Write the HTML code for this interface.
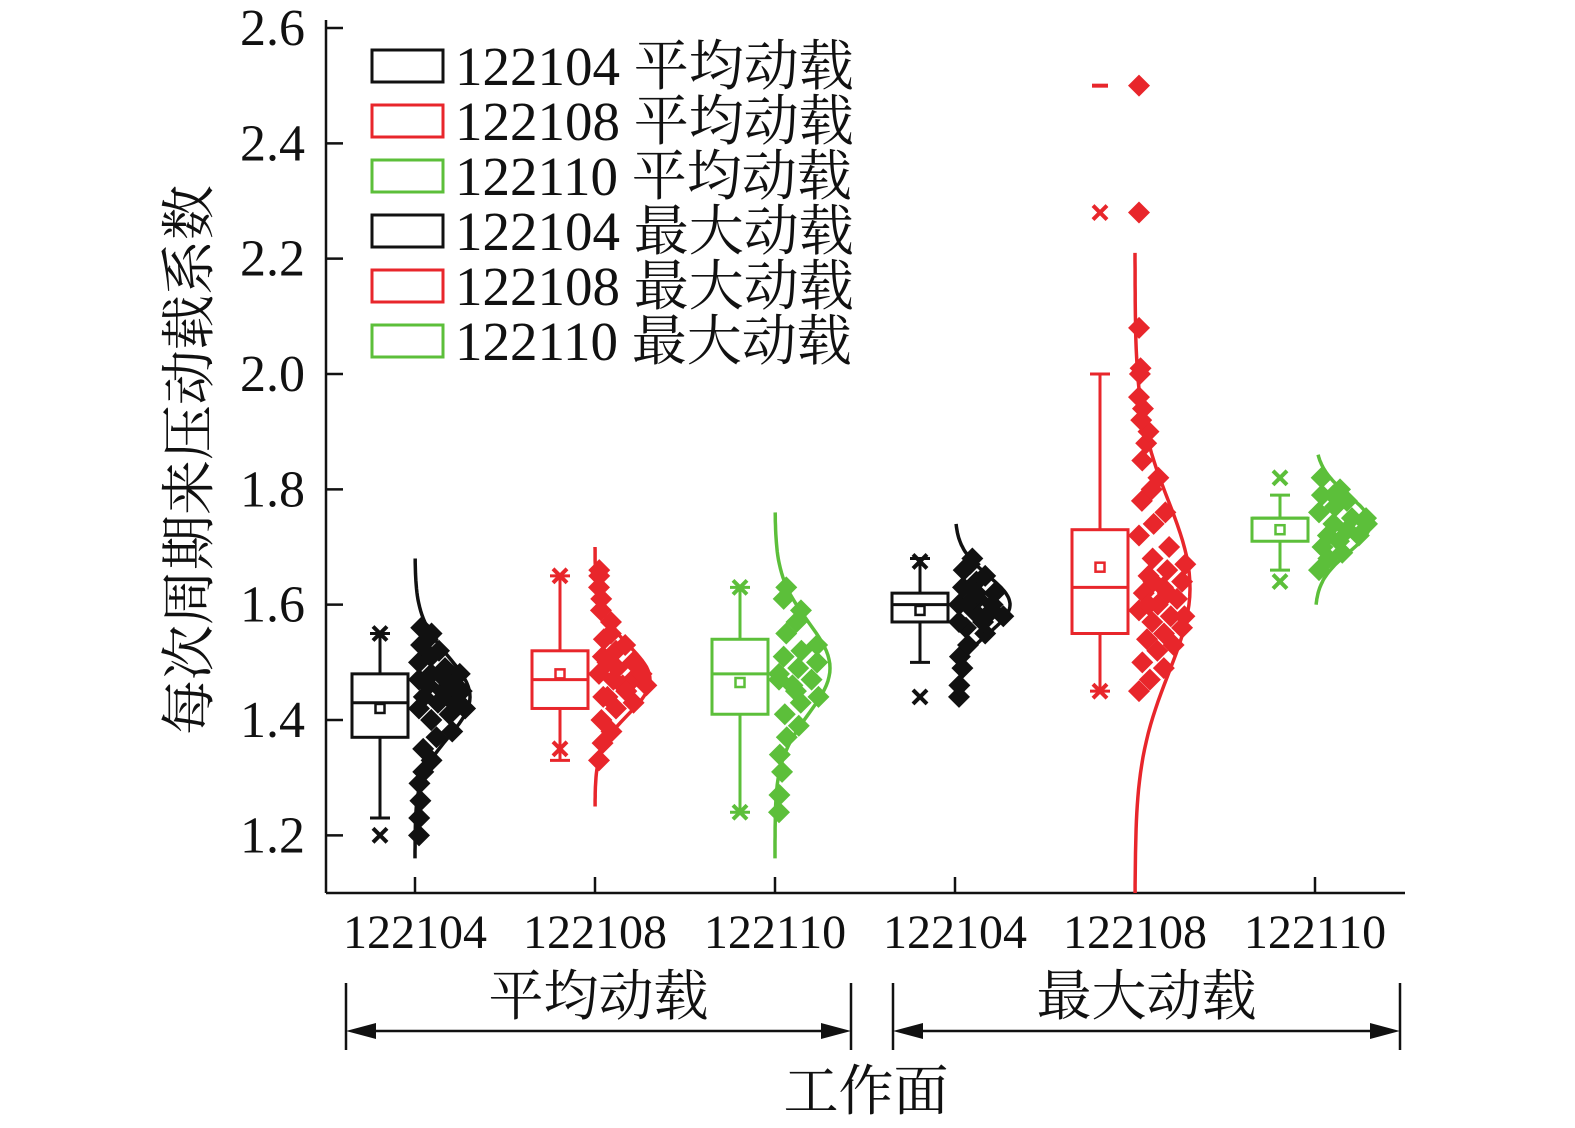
<!DOCTYPE html>
<html><head><meta charset="utf-8"><style>
html,body{margin:0;padding:0;background:#fff;}
svg text{font-family:"Liberation Serif","Noto Serif CJK SC",serif;}
</style></head><body>
<svg id="c" width="1575" height="1123" viewBox="0 0 1575 1123" xmlns="http://www.w3.org/2000/svg"></svg>
<script>
const categories=["122104","122108","122110","122104","122108","122110"];
const seriesNames=["122104 平均动载","122108 平均动载","122110 平均动载","122104 最大动载","122108 最大动载","122110 最大动载"];
const colors=["#111111","#e8262b","#5cbf3a","#111111","#e8262b","#5cbf3a"];
const yTicks=[1.2,1.4,1.6,1.8,2.0,2.2,2.4,2.6];
const yTickLabels=["1.2","1.4","1.6","1.8","2.0","2.2","2.4","2.6"];
const boxQ1=[1.37,1.42,1.41,1.57,1.55,1.71];
const boxMedian=[1.43,1.47,1.48,1.60,1.63,1.75];
const boxQ3=[1.48,1.52,1.54,1.62,1.73,1.75];
const boxMean=[1.42,1.48,1.465,1.59,1.665,1.73];
const whiskerLow=[1.23,1.33,1.24,1.50,1.45,1.66];
const whiskerHigh=[1.55,1.65,1.63,1.68,2.00,1.79];
const minMarker=[1.20,1.35,1.24,1.44,1.45,1.64];
const maxMarker=[1.55,1.65,1.63,1.675,2.28,1.82];
const extremeDash=[null,null,null,null,2.50,null];
const curveMean=[1.44,1.47,1.49,1.60,1.63,1.74];
const curveSd=[0.07,0.06,0.08,0.05,0.15,0.05];
const curveLow=[1.16,1.25,1.16,1.50,1.10,1.60];
const curveHigh=[1.68,1.70,1.76,1.74,2.21,1.86];
const points=[
[1.20,1.23,1.26,1.29,1.31,1.33,1.35,1.37,1.38,1.40,1.41,1.42,1.43,1.43,1.44,1.45,1.45,1.46,1.47,1.48,1.48,1.49,1.50,1.51,1.52,1.53,1.54,1.55,1.56,1.44,1.42,1.40,1.46,1.47],
[1.33,1.36,1.38,1.40,1.42,1.43,1.44,1.45,1.46,1.47,1.47,1.48,1.49,1.50,1.51,1.52,1.53,1.54,1.55,1.57,1.59,1.61,1.63,1.65,1.66,1.44,1.46,1.48,1.50,1.45],
[1.24,1.27,1.31,1.34,1.37,1.39,1.41,1.43,1.44,1.46,1.47,1.48,1.49,1.50,1.51,1.52,1.53,1.55,1.57,1.59,1.61,1.63,1.47,1.45,1.50],
[1.44,1.46,1.49,1.51,1.53,1.55,1.56,1.57,1.58,1.59,1.60,1.60,1.61,1.62,1.63,1.64,1.65,1.66,1.67,1.68,1.61,1.59,1.57,1.62],
[1.45,1.47,1.49,1.50,1.52,1.53,1.54,1.55,1.56,1.57,1.58,1.59,1.60,1.61,1.62,1.63,1.64,1.65,1.66,1.67,1.68,1.70,1.72,1.74,1.76,1.78,1.80,1.82,1.85,1.88,1.90,1.92,1.94,1.96,2.00,2.01,2.08,2.28,2.50,1.60,1.62,1.58,1.64],
[1.66,1.68,1.69,1.70,1.71,1.72,1.72,1.73,1.74,1.74,1.75,1.76,1.77,1.78,1.79,1.79,1.80,1.82,1.73,1.75]
];
const svg=document.getElementById('c');
const NS="http://www.w3.org/2000/svg";
const X0=326,X1=1405,YB=893,YT=28;
const yMin=1.1,yMax=2.6;
function y(v){return YB-(v-yMin)/(yMax-yMin)*(YB-YT);}
function xc(i){return 415+180*i;}
function el(tag,attrs,parent){const e=document.createElementNS(NS,tag);for(const k in attrs)e.setAttribute(k,attrs[k]);(parent||svg).appendChild(e);return e;}
function txt(s,attrs,parent){const t=el('text',attrs,parent);t.textContent=s;return t;}

const ax=el('g',{});


const yl=el('line',{x1:X0,y1:YT-8,x2:X0,y2:YB,stroke:'#111','stroke-width':2.5},ax);


const xl=el('line',{x1:X0,y1:YB,x2:X1,y2:YB,stroke:'#111','stroke-width':2.5},ax);


yTicks.forEach((v,i)=>{
  const t=el('line',{x1:X0,y1:y(v),x2:X0+17,y2:y(v),stroke:'#111','stroke-width':2.5},ax);
  
  
  const l=txt(yTickLabels[i],{x:305,y:y(v)+17,'font-size':52,'text-anchor':'end',fill:'#111'},ax);
  
  
});
categories.forEach((c,i)=>{
  const t=el('line',{x1:xc(i),y1:YB,x2:xc(i),y2:YB-16,stroke:'#111','stroke-width':2.5},ax);
  
  
  const l=txt(c,{x:xc(i),y:948,'font-size':48,'text-anchor':'middle',fill:'#111'},ax);
  
  
});
const yt=txt('每次周期来压动载系数',{x:0,y:0,'font-size':55,'text-anchor':'middle',fill:'#111',transform:'translate(208,460) rotate(-90)'});


const xt=txt('工作面',{x:866,y:1110,'font-size':55,'text-anchor':'middle',fill:'#111'});


[[346,851,'平均动载'],[893,1400,'最大动载']].forEach(g=>{
  const gg=el('g',{stroke:'#111','stroke-width':2.5});
  
  
  el('line',{x1:g[0],y1:983,x2:g[0],y2:1050},gg);
  el('line',{x1:g[1],y1:983,x2:g[1],y2:1050},gg);
  el('line',{x1:g[0]+20,y1:1031,x2:g[1]-20,y2:1031},gg);
  el('polygon',{points:`${g[0]},1031 ${g[0]+30},1023 ${g[0]+30},1039`,fill:'#111',stroke:'none'},gg);
  el('polygon',{points:`${g[1]},1031 ${g[1]-30},1023 ${g[1]-30},1039`,fill:'#111',stroke:'none'},gg);
  const l=txt(g[2],{x:(g[0]+g[1])/2,y:1015,'font-size':55,'text-anchor':'middle',fill:'#111',stroke:'none'});
  
  
});

function xMark(cx,cy,col,g){el('path',{d:`M${cx-7},${cy-7}L${cx+7},${cy+7}M${cx+7},${cy-7}L${cx-7},${cy+7}`,stroke:col,'stroke-width':4},g);}
categories.forEach((c,i)=>{
  const col=colors[i];const bx=xc(i)-35;const w=56;
  const g=el('g',{});
  
  
  el('line',{x1:bx,y1:y(whiskerLow[i]),x2:bx,y2:y(boxQ1[i]),stroke:col,'stroke-width':3},g);
  el('line',{x1:bx,y1:y(whiskerHigh[i]),x2:bx,y2:y(boxQ3[i]),stroke:col,'stroke-width':3},g);
  el('line',{x1:bx-10,y1:y(whiskerLow[i]),x2:bx+10,y2:y(whiskerLow[i]),stroke:col,'stroke-width':3},g);
  el('line',{x1:bx-10,y1:y(whiskerHigh[i]),x2:bx+10,y2:y(whiskerHigh[i]),stroke:col,'stroke-width':3},g);
  const r=el('rect',{x:bx-w/2,y:y(boxQ3[i]),width:w,height:Math.max(1,y(boxQ1[i])-y(boxQ3[i])),fill:'#fff',stroke:col,'stroke-width':3},g);
  
  
  el('line',{x1:bx-w/2,y1:y(boxMedian[i]),x2:bx+w/2,y2:y(boxMedian[i]),stroke:col,'stroke-width':3},g);
  el('rect',{x:bx-4.5,y:y(boxMean[i])-4.5,width:9,height:9,fill:'#fff',stroke:col,'stroke-width':2.5},g);
  xMark(bx,y(minMarker[i]),col,g);
  xMark(bx,y(maxMarker[i]),col,g);
  if(extremeDash[i]!=null) el('line',{x1:bx-8,y1:y(extremeDash[i]),x2:bx+8,y2:y(extremeDash[i]),stroke:col,'stroke-width':4},g);
  let d='';const peak=55;
  for(let k=0;k<=80;k++){const v=curveLow[i]+(curveHigh[i]-curveLow[i])*k/80;
    const z=(v-curveMean[i])/curveSd[i];const px=xc(i)+peak*Math.exp(-z*z/2);
    d+=(k?'L':'M')+px.toFixed(1)+','+y(v).toFixed(1);}
  const cv=el('path',{d:d,fill:'none',stroke:col,'stroke-width':3.5},g);
  
  
  points[i].forEach((v,k)=>{
    const z=(v-curveMean[i])/curveSd[i];const spread=48*Math.exp(-z*z/2);
    const jit=((k*37)%11)/10;const px=xc(i)+4+jit*spread;const py=y(v);
    const p=el('polygon',{points:`${px},${py-11} ${px+11},${py} ${px},${py+11} ${px-11},${py}`,fill:col},g);
    
    
  });
});
const lg=el('g',{});


seriesNames.forEach((s,i)=>{
  const cy=66+55*i;
  const e=el('g',{},lg);
  
  
  el('rect',{x:372,y:cy-16,width:71,height:32,fill:'#fff',stroke:colors[i],'stroke-width':3},e);
  txt(s,{x:455,y:cy+19,'font-size':55,fill:'#111'},e);
});
</script>
</body></html>
